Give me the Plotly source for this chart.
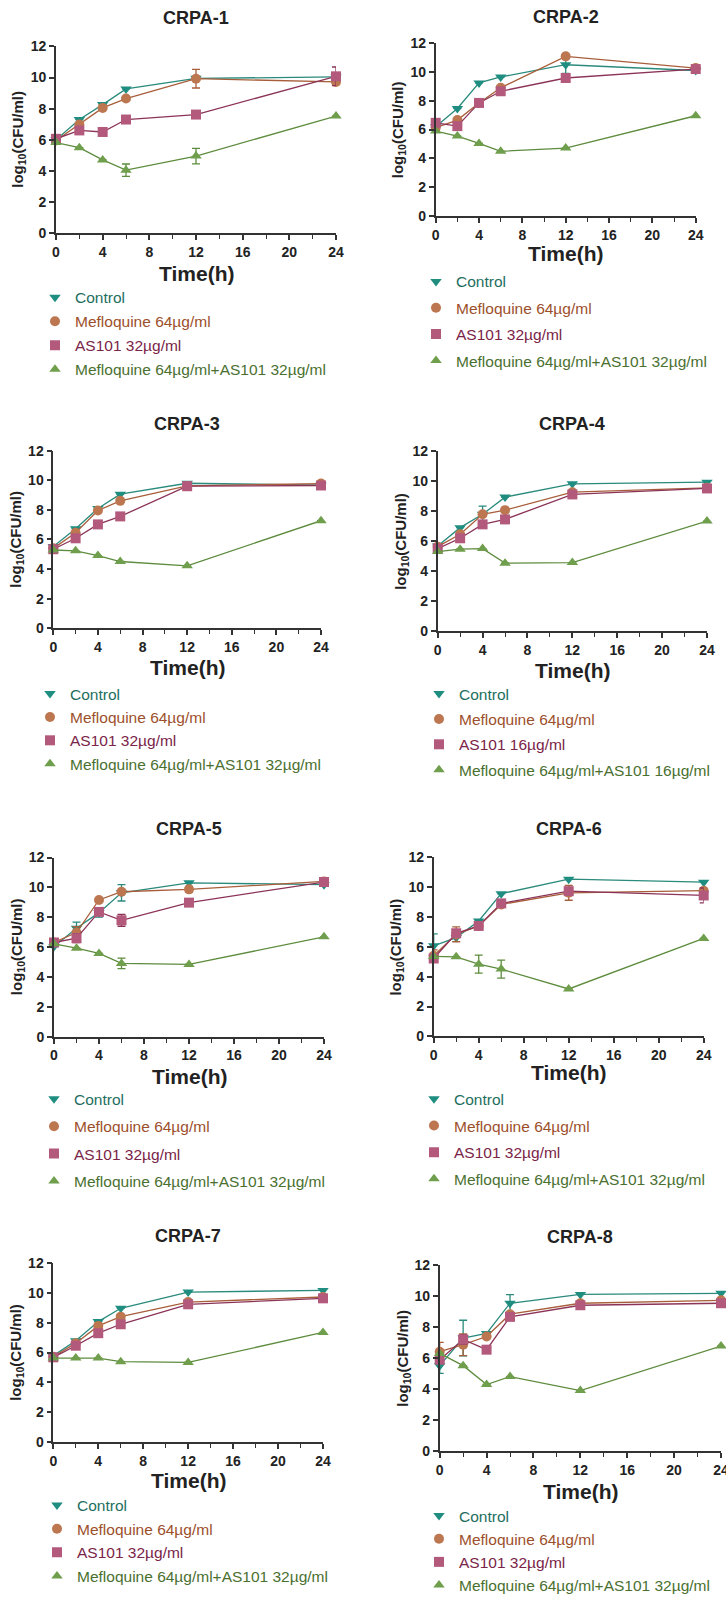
import plotly.graph_objects as go

W, H = 726, 1602

TIME = [0, 2, 4, 6, 12, 24]
TITLES = ["CRPA-1", "CRPA-2", "CRPA-3", "CRPA-4", "CRPA-5", "CRPA-6", "CRPA-7", "CRPA-8"]
AS101_DOSE = ["32", "32", "32", "16", "32", "32", "32", "32"]

CONTROL = [
    [6.0, 7.3, 8.26, 9.27, 9.95, 10.04],
    [6.2, 7.46, 9.24, 9.65, 10.5, 10.1],
    [5.52, 6.73, 8.1, 9.06, 9.8, 9.67],
    [5.68, 6.9, 7.79, 8.94, 9.83, 9.94],
    [6.04, 7.27, 8.31, 9.64, 10.31, 10.18],
    [6.07, 6.62, 7.73, 9.56, 10.53, 10.33],
    [5.79, 6.79, 8.08, 8.97, 10.06, 10.17],
    [5.51, 7.29, 7.59, 9.54, 10.11, 10.18],
]
MEFLOQUINE = [
    [5.95, 6.98, 8.05, 8.65, 9.93, 9.72],
    [6.13, 6.66, 7.85, 8.9, 11.08, 10.27],
    [5.4, 6.46, 7.96, 8.61, 9.62, 9.78],
    [5.63, 6.46, 7.79, 8.07, 9.27, 9.56],
    [6.31, 6.98, 9.16, 9.71, 9.87, 10.4],
    [5.4, 6.84, 7.4, 8.84, 9.62, 9.76],
    [5.72, 6.63, 7.79, 8.41, 9.39, 9.73],
    [6.41, 6.86, 7.39, 8.83, 9.54, 9.73],
]
AS101 = [
    [6.06, 6.6, 6.5, 7.3, 7.62, 10.08],
    [6.47, 6.24, 7.85, 8.66, 9.58, 10.2],
    [5.34, 6.08, 7.02, 7.56, 9.6, 9.65],
    [5.5, 6.19, 7.12, 7.45, 9.12, 9.52],
    [6.31, 6.6, 8.36, 7.8, 8.98, 10.36],
    [5.22, 6.91, 7.4, 8.91, 9.73, 9.44],
    [5.68, 6.46, 7.3, 7.9, 9.24, 9.64],
    [5.89, 7.2, 6.54, 8.66, 9.41, 9.54],
]
COMBO = [
    [5.82, 5.49, 4.7, 4.04, 4.95, 7.52],
    [5.9, 5.55, 5.04, 4.49, 4.72, 6.96],
    [5.29, 5.23, 4.91, 4.51, 4.22, 7.27],
    [5.3, 5.46, 5.5, 4.53, 4.57, 7.34],
    [6.22, 5.93, 5.58, 4.91, 4.84, 6.69],
    [5.36, 5.33, 4.84, 4.51, 3.18, 6.56],
    [5.63, 5.63, 5.63, 5.39, 5.34, 7.35],
    [6.3, 5.51, 4.29, 4.8, 3.9, 6.77],
]
CONTROL_ERR = [
    [0, 0, 0, 0, 0, 0],
    [0, 0, 0, 0, 0.6, 0],
    [0, 0, 0, 0, 0, 0],
    [0, 0, 0.55, 0, 0, 0],
    [0, 0.4, 0.3, 0.55, 0, 0],
    [0.8, 0, 0, 0, 0, 0],
    [0, 0, 0, 0, 0, 0],
    [0.5, 1.15, 0, 0.55, 0, 0],
]
MEFLOQUINE_ERR = [
    [0, 0, 0, 0, 0.6, 0.2],
    [0, 0, 0, 0, 0, 0],
    [0, 0, 0, 0, 0, 0],
    [0, 0, 0, 0, 0, 0],
    [0, 0.4, 0, 0, 0.2, 0],
    [0.4, 0.5, 0, 0, 0.5, 0],
    [0, 0, 0, 0, 0, 0],
    [0.6, 0.7, 0, 0, 0, 0],
]
AS101_ERR = [
    [0, 0, 0, 0, 0.25, 0.6],
    [0, 0, 0, 0, 0, 0],
    [0, 0, 0, 0, 0, 0],
    [0, 0, 0.2, 0, 0, 0],
    [0, 0.3, 0, 0.4, 0.25, 0],
    [0, 0, 0, 0, 0, 0.5],
    [0, 0, 0, 0, 0, 0],
    [0, 0.3, 0, 0, 0, 0],
]
COMBO_ERR = [
    [0, 0, 0, 0.4, 0.5, 0],
    [0, 0, 0, 0, 0, 0],
    [0, 0, 0, 0, 0, 0],
    [0, 0, 0, 0, 0, 0],
    [0, 0, 0, 0.35, 0, 0],
    [0, 0, 0.6, 0.6, 0, 0],
    [0, 0, 0, 0, 0, 0],
    [0, 0, 0, 0, 0, 0],
]

# panel geometry in pixels: x0, x1, ytop, ybottom
PANELS = [
    (56, 336, 46.7, 234),
    (435.7, 695.7, 43.3, 217),
    (53.3, 321, 452.7, 631),
    (437.7, 707, 453.3, 633.7),
    (54, 324, 861.3, 1041.3),
    (433.7, 703.7, 861, 1041),
    (53.3, 323, 1268.7, 1448.3),
    (439.7, 721, 1270.7, 1457.3),
]
TITLE_Y = [18, 17, 425.7, 425.7, 833, 833, 1241.7, 1242.3]
XLABEL_Y = [275, 255, 670, 673, 1081, 1077, 1487, 1498]
LEGEND_POS = [(71, 298), (452, 282), (66, 696), (455, 696),
              (70, 1103), (450, 1103), (73, 1511), (455, 1522)]
LEGEND_STEP = [24.3, 26.7, 23.7, 25.7, 27.7, 27, 24, 22.7]

SERIES = [
    # key, marker symbol, marker color, line color, text color
    ("ctrl", "triangle-down", "#1f8e80", "#2a8a7c", "#1e6e60"),
    ("mef", "circle", "#bc7650", "#a85e3a", "#9c4f2b"),
    ("as", "square", "#b35a7c", "#8c3358", "#7a2448"),
    ("combo", "triangle-up", "#6f9e4c", "#5e8c3e", "#4a7030"),
]

fig = go.Figure()
layout = {}
annotations = []
AX = "#333333"
FONT = "Liberation Sans, Arial, sans-serif"

for i in range(8):
    n = i + 1
    x0, x1, yt, yb = PANELS[i]
    xa = "xaxis" if n == 1 else f"xaxis{n}"
    ya = "yaxis" if n == 1 else f"yaxis{n}"
    xref = "x" if n == 1 else f"x{n}"
    yref = "y" if n == 1 else f"y{n}"
    lg = "legend" if n == 1 else f"legend{n}"
    common = dict(showline=True, linecolor=AX, linewidth=1.6, ticks="outside",
                  ticklen=5, tickwidth=1.6, tickcolor=AX, showgrid=False, zeroline=False,
                  automargin=False, ticklabeloverflow="allow",
                  tickfont=dict(family=FONT, size=14, color="#222222", weight="bold"))
    layout[xa] = dict(domain=[x0 / W, x1 / W], anchor=yref, range=[0, 24], tick0=0, dtick=4,
                      minor=dict(dtick=2, ticks="outside", ticklen=4, tickwidth=1.4, tickcolor=AX),
                      **common)
    layout[ya] = dict(domain=[1 - yb / H, 1 - yt / H], anchor=xref, range=[0, 12], tick0=0, dtick=2,
                      **common)
    lx, ly = LEGEND_POS[i]
    layout[lg] = dict(x=(lx - 36) / W, xanchor="left", y=1 - (ly - 16) / H, yanchor="top",
                      bgcolor="rgba(0,0,0,0)", font=dict(family=FONT, size=15.5),
                      tracegroupgap=max(0, LEGEND_STEP[i] - 23.5), itemclick=False)

    names = ["Control", "Mefloquine 64µg/ml", f"AS101 {AS101_DOSE[i]}µg/ml",
             f"Mefloquine 64µg/ml+AS101 {AS101_DOSE[i]}µg/ml"]
    vals = [CONTROL[i], MEFLOQUINE[i], AS101[i], COMBO[i]]
    errs = [CONTROL_ERR[i], MEFLOQUINE_ERR[i], AS101_ERR[i], COMBO_ERR[i]]
    for (key, sym, mc, lc, tc), nm, v, e in zip(SERIES, names, vals, errs):
        fig.add_trace(go.Scatter(x=TIME, y=v, mode="lines", xaxis=xref, yaxis=yref,
                                 line=dict(color=lc, width=1.3), showlegend=False,
                                 cliponaxis=False, hoverinfo="skip"))
        fig.add_trace(go.Scatter(x=TIME, y=v, mode="markers", xaxis=xref, yaxis=yref,
                                 marker=dict(symbol=sym, size=10, color=mc),
                                 error_y=dict(type="data", array=e, visible=True, color=lc,
                                              thickness=1.3, width=4),
                                 name=f"<span style='color:{tc}'>{nm}</span>",
                                 legend=lg, legendgroup=f"{key}{n}",
                                 cliponaxis=False))

    cx = (x0 + x1) / 2
    annotations.append(dict(text=f"<b>{TITLES[i]}</b>", x=cx / W, y=1 - TITLE_Y[i] / H,
                            xref="paper", yref="paper", showarrow=False, xanchor="center",
                            yanchor="middle", font=dict(family=FONT, size=18, color="#222222")))
    annotations.append(dict(text="<b>Time(h)</b>", x=cx / W, y=1 - XLABEL_Y[i] / H,
                            xref="paper", yref="paper", showarrow=False, xanchor="center",
                            yanchor="middle", font=dict(family=FONT, size=21, color="#222222")))
    annotations.append(dict(text="<b>log<sub>10</sub>(CFU/ml)</b>", x=(x0 - 37) / W,
                            y=1 - (yt + yb) / 2 / H, xref="paper", yref="paper", showarrow=False,
                            xanchor="center", yanchor="middle", textangle=-90,
                            font=dict(family=FONT, size=15, color="#222222")))

fig.update_layout(width=W, height=H, margin=dict(l=0, r=0, t=0, b=0),
                  paper_bgcolor="white", plot_bgcolor="white",
                  annotations=annotations, **layout)

fig.write_html("out.html", config={"displayModeBar": False},
               post_script="document.body.style.margin='0px';document.body.style.overflow='hidden';")
